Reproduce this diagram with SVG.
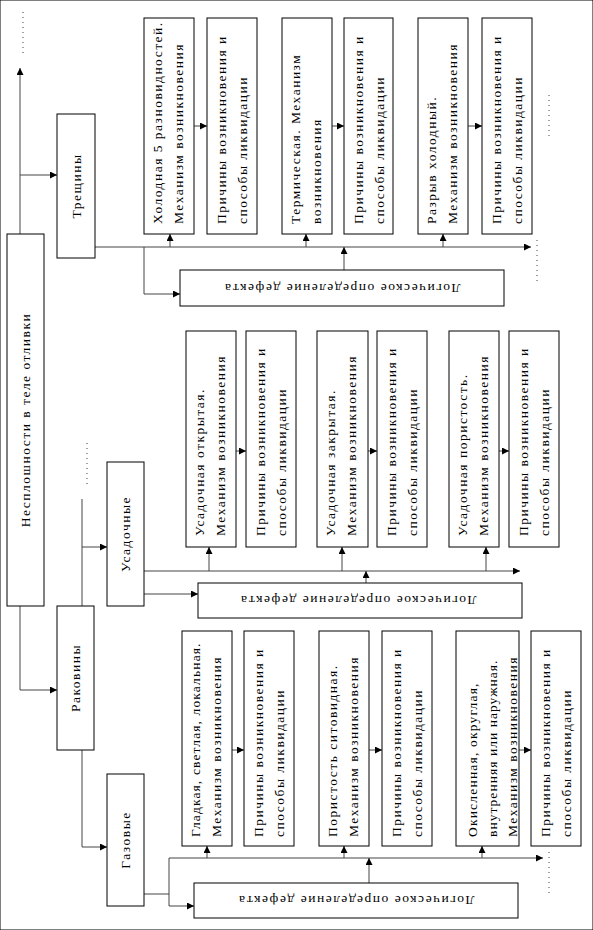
<svg xmlns="http://www.w3.org/2000/svg" width="593" height="930" viewBox="0 0 593 930">
<defs>
<marker id="ah" viewBox="0 0 10 10" refX="10" refY="5" markerWidth="7" markerHeight="7" markerUnits="userSpaceOnUse" orient="auto">
<path d="M0,0 L10,5 L0,10 z" fill="#000"/>
</marker>
</defs>
<style>
rect{fill:#fff;stroke:#000;stroke-width:1}
text{font-family:"Liberation Serif","Times New Roman",serif;font-size:13.5px;letter-spacing:1.5px;fill:#000}
.c line,.c path{stroke:#444;stroke-width:1;fill:none}
.a{marker-end:url(#ah)}
.d{stroke:#000;stroke-width:1;stroke-dasharray:1 4;fill:none}
.m{text-anchor:middle}
</style>
<rect width="593" height="930" fill="#fff" stroke="none"/>

<g class="c" id="connectors">
<line class="a" x1="20" y1="234" x2="20" y2="68"/>
<line class="a" x1="20" y1="175" x2="57" y2="175"/>
<path class="a" d="M20,606 V690 H57"/>
<line class="a" x1="95" y1="247" x2="531" y2="247"/>
<line class="a" x1="170" y1="247" x2="170" y2="234"/>
<line class="a" x1="306" y1="247" x2="306" y2="234"/>
<line class="a" x1="443" y1="247" x2="443" y2="234"/>
<path class="a" d="M144,247 V294 H180"/>
<line class="a" x1="344" y1="270" x2="344" y2="247"/>
<line class="a" x1="194" y1="126" x2="207" y2="126"/>
<line class="a" x1="332" y1="126" x2="344" y2="126"/>
<line class="a" x1="468" y1="126" x2="482" y2="126"/>

<line x1="82" y1="606" x2="82" y2="499"/>
<line class="a" x1="82" y1="547" x2="107" y2="547"/>
<line class="a" x1="144" y1="571" x2="520" y2="571"/>
<line class="a" x1="209" y1="571" x2="209" y2="547"/>
<line class="a" x1="342" y1="571" x2="342" y2="547"/>
<line class="a" x1="486" y1="571" x2="486" y2="547"/>
<line class="a" x1="144" y1="594" x2="198" y2="594"/>
<line class="a" x1="366" y1="583" x2="366" y2="571"/>
<line class="a" x1="236" y1="451" x2="246" y2="451"/>
<line class="a" x1="368" y1="451" x2="377" y2="451"/>
<line class="a" x1="499" y1="451" x2="509" y2="451"/>

<path class="a" d="M82,750 V847 H107"/>
<path d="M144,894 H169 M169,858 V906"/>
<line class="a" x1="169" y1="858" x2="543" y2="858"/>
<line class="a" x1="169" y1="906" x2="194" y2="906"/>
<line class="a" x1="207" y1="858" x2="207" y2="846"/>
<line class="a" x1="344" y1="858" x2="344" y2="846"/>
<line class="a" x1="482" y1="858" x2="482" y2="846"/>
<line class="a" x1="369" y1="883" x2="369" y2="858"/>
<line class="a" x1="232" y1="750" x2="244" y2="750"/>
<line class="a" x1="369" y1="750" x2="382" y2="750"/>
<line class="a" x1="519" y1="750" x2="531" y2="750"/>

<line class="d" x1="23" y1="12" x2="23" y2="54"/>
<line class="d" x1="537" y1="240" x2="537" y2="284"/>
<line class="d" x1="549" y1="95" x2="549" y2="138"/>
<line class="d" x1="87" y1="443" x2="87" y2="488"/>
<line class="d" x1="549" y1="852" x2="549" y2="896"/>
</g>

<g id="n-main"><rect x="7" y="234" width="37" height="372"/><text class="m" transform="translate(30,420) rotate(-90)">Несплошности в теле отливки</text></g>
<g id="n-treshchiny"><rect x="57" y="114" width="38" height="144"/><text class="m" transform="translate(80.5,186) rotate(-90)">Трещины</text></g>
<g id="n-rakoviny"><rect x="57" y="606" width="37" height="144"/><text class="m" transform="translate(80,678) rotate(-90)">Раковины</text></g>
<g id="n-usadochnye"><rect x="107" y="462" width="37" height="144"/><text class="m" transform="translate(130,534) rotate(-90)">Усадочные</text></g>
<g id="n-gazovye"><rect x="107" y="774" width="37" height="132"/><text class="m" transform="translate(130,840) rotate(-90)">Газовые</text></g>

<g id="n-holodnaya"><rect x="144" y="18" width="50" height="216"/><text transform="translate(162,224) rotate(-90)">Холодная 5 разновидностей.</text><text transform="translate(183,224) rotate(-90)">Механизм возникновения</text></g>
<g id="n-prich1"><rect x="207" y="18" width="50" height="216"/><text transform="translate(226,224) rotate(-90)">Причины возникновения и</text><text transform="translate(247,224) rotate(-90)">способы ликвидации</text></g>
<g id="n-termich"><rect x="282" y="18" width="50" height="216"/><text transform="translate(300,224) rotate(-90)">Термическая. Механизм</text><text transform="translate(321,224) rotate(-90)">возникновения</text></g>
<g id="n-prich2"><rect x="344" y="18" width="49" height="216"/><text transform="translate(363,224) rotate(-90)">Причины возникновения и</text><text transform="translate(384,224) rotate(-90)">способы ликвидации</text></g>
<g id="n-razryv"><rect x="418" y="18" width="50" height="216"/><text transform="translate(436,224) rotate(-90)">Разрыв холодный.</text><text transform="translate(457,224) rotate(-90)">Механизм возникновения</text></g>
<g id="n-prich3"><rect x="482" y="18" width="50" height="216"/><text transform="translate(501,224) rotate(-90)">Причины возникновения и</text><text transform="translate(522,224) rotate(-90)">способы ликвидации</text></g>
<g id="n-log1"><rect x="180" y="270" width="324" height="36"/><text class="m" transform="translate(342,288) rotate(180)" y="4.5">Логическое определение дефекта</text></g>

<g id="n-otkr"><rect x="186" y="331" width="50" height="216"/><text transform="translate(204,536) rotate(-90)">Усадочная открытая.</text><text transform="translate(225,536) rotate(-90)">Механизм возникновения</text></g>
<g id="n-prich4"><rect x="246" y="331" width="50" height="216"/><text transform="translate(265,536) rotate(-90)">Причины возникновения и</text><text transform="translate(286,536) rotate(-90)">способы ликвидации</text></g>
<g id="n-zakr"><rect x="317" y="331" width="51" height="216"/><text transform="translate(335,536) rotate(-90)">Усадочная закрытая.</text><text transform="translate(356,536) rotate(-90)">Механизм возникновения</text></g>
<g id="n-prich5"><rect x="377" y="331" width="50" height="216"/><text transform="translate(396,536) rotate(-90)">Причины возникновения и</text><text transform="translate(417,536) rotate(-90)">способы ликвидации</text></g>
<g id="n-poristost"><rect x="449" y="331" width="50" height="216"/><text transform="translate(467,536) rotate(-90)">Усадочная пористость.</text><text transform="translate(488,536) rotate(-90)">Механизм возникновения</text></g>
<g id="n-prich6"><rect x="509" y="331" width="50" height="216"/><text transform="translate(528,536) rotate(-90)">Причины возникновения и</text><text transform="translate(549,536) rotate(-90)">способы ликвидации</text></g>
<g id="n-log2"><rect x="198" y="583" width="324" height="35"/><text class="m" transform="translate(358,600.5) rotate(180)" y="4.5">Логическое определение дефекта</text></g>

<g id="n-gladkaya"><rect x="182" y="631" width="50" height="215"/><text transform="translate(200,837) rotate(-90)" textLength="195" lengthAdjust="spacing">Гладкая, светлая, локальная.</text><text transform="translate(221,837) rotate(-90)">Механизм возникновения</text></g>
<g id="n-prich7"><rect x="244" y="631" width="50" height="215"/><text transform="translate(263,837) rotate(-90)">Причины возникновения и</text><text transform="translate(284,837) rotate(-90)">способы ликвидации</text></g>
<g id="n-sitov"><rect x="319" y="631" width="50" height="215"/><text transform="translate(337,837) rotate(-90)">Пористость ситовидная.</text><text transform="translate(358,837) rotate(-90)">Механизм возникновения</text></g>
<g id="n-prich8"><rect x="382" y="631" width="50" height="215"/><text transform="translate(401,837) rotate(-90)">Причины возникновения и</text><text transform="translate(422,837) rotate(-90)">способы ликвидации</text></g>
<g id="n-okisl"><rect x="456" y="631" width="63" height="215"/><text transform="translate(477,837) rotate(-90)" textLength="155" lengthAdjust="spacing">Окисленная, округлая,</text><text transform="translate(497,837) rotate(-90)" textLength="178" lengthAdjust="spacing">внутренняя или наружная.</text><text transform="translate(517,837) rotate(-90)">Механизм возникновения</text></g>
<g id="n-prich9"><rect x="531" y="631" width="50" height="215"/><text transform="translate(550,837) rotate(-90)">Причины возникновения и</text><text transform="translate(571,837) rotate(-90)">способы ликвидации</text></g>
<g id="n-log3"><rect x="194" y="883" width="324" height="35"/><text class="m" transform="translate(356,900.5) rotate(180)" y="4.5">Логическое определение дефекта</text></g>
</svg>
